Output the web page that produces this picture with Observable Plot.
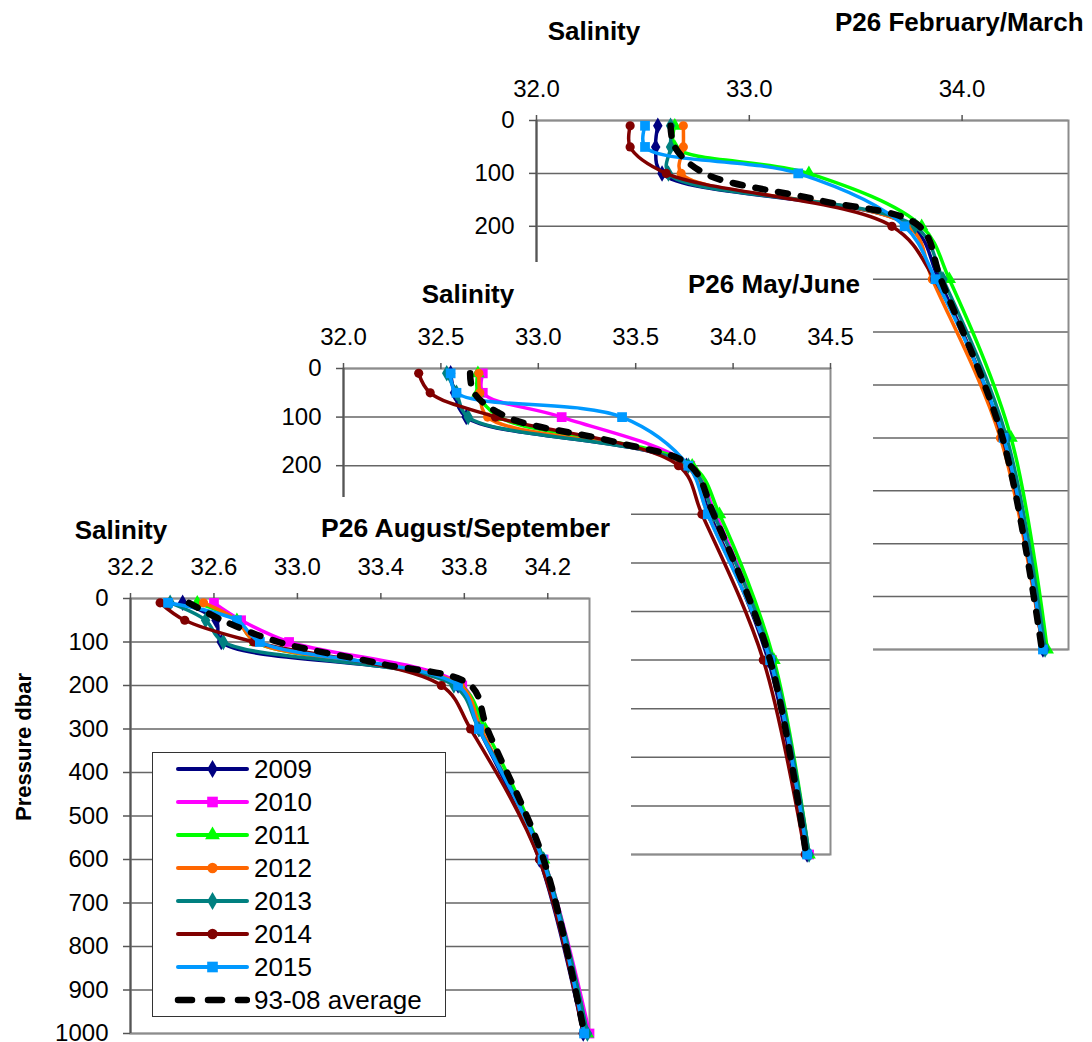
<!DOCTYPE html>
<html><head><meta charset="utf-8">
<script src="https://cdn.jsdelivr.net/npm/d3@7"></script>
<script src="https://cdn.jsdelivr.net/npm/@observablehq/plot@0.6"></script>
<style>
body{margin:0;background:#fff;font-family:"Liberation Sans",Arial,sans-serif;}
#root{position:relative;width:1092px;height:1042px;overflow:hidden;background:#fff;}
.panel{position:absolute;background:#fff;}
.panel svg{display:block;}
.t{position:absolute;font-weight:bold;font-size:26px;white-space:nowrap;line-height:1;color:#000;}
.c{transform:translate(-50%,-50%);}
.l{transform:translate(0,-50%);}
.legend{position:absolute;background:#fff;border:1.5px solid #333;box-sizing:border-box;}
.row{position:absolute;left:0;height:32px;display:flex;align-items:center;}
.row span{font-size:26px;line-height:1;margin-left:4px;}
</style></head><body><div id="root"></div>
<script>
// ---------- data ----------
const years = ["2009","2010","2011","2012","2013","2014","2015"];
const colors = ["#000080","#ff00ff","#00ff00","#ff6600","#008080","#800000","#0099ff"];
const symbols = ["diamond","square","triangle","circle","diamond","circle","square"];
const depths = [10, 50, 100, 200, 300, 600, 1000];
const avgDepths = [10, 50, 100, 150, 200, 300, 600, 1000];
const yTicks = [0,100,200,300,400,500,600,700,800,900,1000];
const yTicksTop = [0,100,200];

// P26 February/March (no 2010 profile)
const feb2009 = [32.57, 32.56, 32.59, 33.76, 33.89, 34.19, 34.38];
const feb2010 = null;
const feb2011 = [32.65, 32.65, 33.28, 33.81, 33.94, 34.23, 34.40];
const feb2012 = [32.69, 32.69, 32.68, 33.75, 33.86, 34.18, 34.38];
const feb2013 = [32.63, 32.63, 32.62, 33.78, 33.91, 34.21, 34.39];
const feb2014 = [32.44, 32.44, 32.61, 33.67, 33.87, 34.19, 34.38];
const feb2015 = [32.51, 32.51, 33.23, 33.73, 33.875, 34.195, 34.38];
const febAvg  = [32.63, 32.65, 32.79, 33.32, 33.80, 33.90, 34.19, 34.375];
const febTicks = [32, 33, 34];

// P26 May/June
const may2009 = [32.55, 32.57, 32.63, 33.76, 33.88, 34.18, 34.38];
const may2010 = [32.715, 32.715, 33.12, 33.78, 33.91, 34.20, 34.39];
const may2011 = [32.69, 32.69, 32.80, 33.79, 33.93, 34.21, 34.39];
const may2012 = [32.695, 32.70, 32.74, 33.76, 33.87, 34.19, 34.38];
const may2013 = [32.53, 32.58, 32.64, 33.77, 33.90, 34.20, 34.39];
const may2014 = [32.386, 32.445, 32.78, 33.72, 33.84, 34.155, 34.37];
const may2015 = [32.55, 32.58, 33.43, 33.77, 33.87, 34.19, 34.38];
const mayAvg  = [32.65, 32.67, 32.84, 33.38, 33.78, 33.90, 34.19, 34.375];
const mayTicks = [32, 32.5, 33, 33.5, 34, 34.5];

// P26 August/September
const aug2009 = [32.45, 32.61, 32.635, 33.77, 33.87, 34.16, 34.37];
const aug2010 = [32.60, 32.73, 32.96, 33.79, 33.88, 34.18, 34.40];
const aug2011 = [32.52, 32.71, 32.80, 33.78, 33.90, 34.18, 34.39];
const aug2012 = [32.55, 32.71, 32.80, 33.78, 33.88, 34.17, 34.38];
const aug2013 = [32.39, 32.56, 32.645, 33.75, 33.87, 34.18, 34.39];
const aug2014 = [32.342, 32.46, 32.79, 33.69, 33.83, 34.16, 34.37];
const aug2015 = [32.38, 32.71, 32.82, 33.77, 33.87, 34.175, 34.374];
const augAvg  = [32.48, 32.64, 32.91, 33.40, 33.83, 33.91, 34.18, 34.375];
const augTicks = [32.2, 32.6, 33.0, 33.4, 33.8, 34.2];

// ---------- drawing ----------
const root = document.getElementById("root");
const FONT = "'Liberation Sans', Arial, sans-serif";
const TICK_FONT = 24;

function makePanel(series, avg, xDomain, xTicks, yLabelTicks, box) {
  const marks = [
    Plot.gridY(yTicks, {stroke: "#666", strokeOpacity: 1, strokeWidth: 1.5}),
    Plot.frame({stroke: "#8c8c8c", strokeWidth: 2}),
    Plot.ruleX([xDomain[0]], {stroke: "#555", strokeWidth: 2}),
    Plot.axisX(xTicks, {anchor: "top", tickSize: 6, tickPadding: 18, tickFormat: d3.format(".1f"),
      fontSize: TICK_FONT, stroke: "#555", strokeWidth: 1.5, label: null}),
    Plot.axisY(yLabelTicks, {anchor: "left", tickSize: 7, tickPadding: 15, fontSize: TICK_FONT,
      tickFormat: d3.format("d"), stroke: "#555", strokeWidth: 1.5, label: null})
  ];
  series.forEach((vals, i) => {
    if (!vals) return;
    const data = depths.map((d, k) => ({d, s: vals[k]}));
    marks.push(Plot.line(data, {x: "s", y: "d", stroke: colors[i], strokeWidth: 3.5, curve: "catmull-rom"}));
    const r = symbols[i] === "square" ? 5.5 : symbols[i] === "circle" ? 4.6 : 5;
    marks.push(Plot.dot(data, {x: "s", y: "d", symbol: symbols[i], fill: colors[i], stroke: "none", r}));
  });
  const adata = avgDepths.map((d, k) => ({d, s: avg[k]}));
  marks.push(Plot.line(adata, {x: "s", y: "d", stroke: "#000", strokeWidth: 6.5,
    strokeDasharray: "10,13", strokeLinecap: "round", curve: "catmull-rom"}));

  const svg = Plot.plot({
    width: box.width, height: box.height,
    marginLeft: box.mL, marginTop: box.mT, marginRight: box.mR, marginBottom: box.mB,
    style: {fontFamily: FONT, fontSize: TICK_FONT + "px", background: "#fff", overflow: "visible"},
    x: {domain: xDomain, axis: null},
    y: {domain: [0, 1000], reverse: true, axis: null},
    marks
  });
  svg.querySelectorAll('g[aria-label$="tick label"]').forEach(g => {
    g.setAttribute("font-size", String(TICK_FONT));
    g.style.fontSize = TICK_FONT + "px";
    g.querySelectorAll("text").forEach(t => { t.style.fontSize = TICK_FONT + "px"; });
  });
  const div = document.createElement("div");
  div.className = "panel";
  div.style.left = box.left + "px"; div.style.top = box.top + "px";
  div.style.width = box.width + "px"; div.style.height = box.height + "px";
  div.appendChild(svg);
  root.appendChild(div);
}

function addText(txt, x, y, cls, extra) {
  const el = document.createElement("div");
  el.className = "t " + cls;
  el.textContent = txt;
  el.style.left = x + "px"; el.style.top = y + "px";
  if (extra) Object.assign(el.style, extra);
  root.appendChild(el);
}

// Panel 1: February/March
makePanel([feb2009, feb2010, feb2011, feb2012, feb2013, feb2014, feb2015], febAvg, [32, 34.5], febTicks, yTicksTop,
  {left: 480, top: 0, width: 612, height: 662, mL: 56, mT: 120, mR: 24, mB: 13});
addText("Salinity", 594, 31, "c");
addText("P26 February/March", 835, 22, "l");

// Panel 2: May/June
makePanel([may2009, may2010, may2011, may2012, may2013, may2014, may2015], mayAvg, [32, 34.5], mayTicks, yTicksTop,
  {left: 270, top: 262, width: 603, height: 608, mL: 73, mT: 106, mR: 43, mB: 16});
addText("Salinity", 468, 294, "c");
addText("P26 May/June", 688, 284, "l");

// Panel 3: August/September
makePanel([aug2009, aug2010, aug2011, aug2012, aug2013, aug2014, aug2015], augAvg, [32.2, 34.4], augTicks, yTicks,
  {left: 0, top: 497, width: 631, height: 545, mL: 130, mT: 101, mR: 42, mB: 9});
addText("Salinity", 121, 530, "c");
addText("P26 August/September", 321, 528, "l", {fontSize: "26.5px"});
addText("Pressure dbar", 24, 747, "c", {fontSize: "22px", transform: "translate(-50%,-50%) rotate(-90deg)"});

// Legend
const lg = document.createElement("div");
lg.className = "legend";
Object.assign(lg.style, {left: "152px", top: "752px", width: "294px", height: "265px"});
const names = years.concat(["93-08 average"]);
names.forEach((name, i) => {
  const row = document.createElement("div");
  row.className = "row";
  row.style.top = (i * 33) + "px";
  const ns = "http://www.w3.org/2000/svg";
  const s = document.createElementNS(ns, "svg");
  s.setAttribute("width", 97); s.setAttribute("height", 32);
  const ln = document.createElementNS(ns, "line");
  ln.setAttribute("x1", 25); ln.setAttribute("x2", 94); ln.setAttribute("y1", 16); ln.setAttribute("y2", 16);
  ln.setAttribute("stroke-linecap", "round");
  if (i < years.length) {
    ln.setAttribute("stroke", colors[i]); ln.setAttribute("stroke-width", 4);
    s.appendChild(ln);
    const r = symbols[i] === "square" ? 6 : symbols[i] === "circle" ? 5.2 : 5.5;
    const symMap = {diamond: d3.symbolDiamond, square: d3.symbolSquare, triangle: d3.symbolTriangle, circle: d3.symbolCircle};
    const p = document.createElementNS(ns, "path");
    p.setAttribute("d", d3.symbol(symMap[symbols[i]], Math.PI * r * r)());
    p.setAttribute("transform", "translate(59.5,16)");
    p.setAttribute("fill", colors[i]);
    s.appendChild(p);
  } else {
    ln.setAttribute("stroke", "#000"); ln.setAttribute("stroke-width", 6.5);
    ln.setAttribute("stroke-dasharray", "14,16");
    s.appendChild(ln);
  }
  row.appendChild(s);
  const sp = document.createElement("span");
  sp.textContent = name;
  row.appendChild(sp);
  lg.appendChild(row);
});
root.appendChild(lg);
</script>
</body></html>
